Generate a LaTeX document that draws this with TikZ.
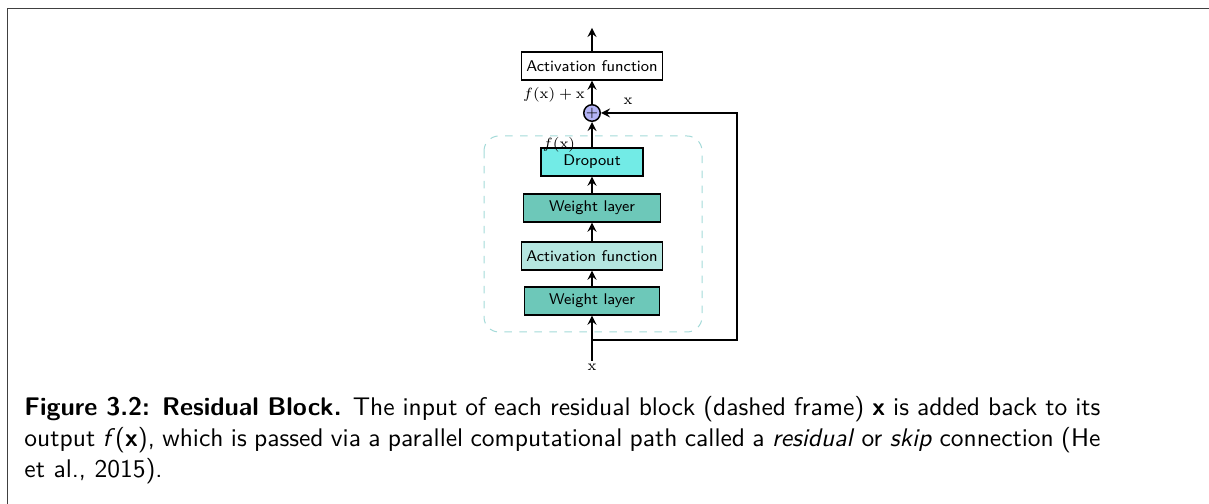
\documentclass[tikz,border=0pt]{standalone}
\usepackage{amsmath}
\usepackage{graphicx}

\definecolor{dropcol}{HTML}{72EBE6}
\definecolor{weightcol}{HTML}{6DC8B9}
\definecolor{actcol}{HTML}{B5E6E0}
\definecolor{framecol}{HTML}{A3DAD8}
\definecolor{addcol}{HTML}{B3B3F5}

\tikzstyle{layer}=[draw, semithick, minimum height=28*0.4pt, inner sep=0pt, font=\sffamily\fontsize{6.2}{7}\selectfont]
\tikzstyle{arrow}=[semithick, -stealth]
\tikzstyle{lbl}=[inner sep=1pt, font=\scriptsize]
\newcommand{\smallmath}[1]{\scalebox{0.85}{$#1$}}

\begin{document}
\begin{tikzpicture}[x=0.4pt, y=-0.4pt]
      \useasboundingbox (0, 0) rectangle (1209, 504);
      % page frame
      \draw[black!75] (7, 504) -- (7, 9) -- (1209, 9);

      \node[layer, fill=white, minimum width=141*0.4pt] (out) at (592, 66) {Activation function};
      \node[layer, fill=dropcol, minimum width=102*0.4pt] (drop) at (592, 162) {Dropout};
      \node[layer, fill=weightcol, minimum width=137*0.4pt] (w2) at (592, 208) {Weight layer};
      \node[layer, fill=actcol, minimum width=141*0.4pt] (act) at (592, 256) {Activation function};
      \node[layer, fill=weightcol, minimum width=135*0.4pt] (w1) at (592, 301) {Weight layer};

      \node[draw, semithick, circle, fill=addcol, inner sep=0pt, minimum size=13*0.4pt, font=\fontsize{4}{4}\selectfont] (add) at (592, 113) {$+$};
      \node[lbl] (xin) at (592, 367) {\smallmath{\mathrm{x}}};
      \coordinate (top) at (592, 28);
      \coordinate (branch) at (592, 340);
      \coordinate (turn) at (737, 113);

      % residual block
      \draw[framecol, dashed, rounded corners=6] (484, 136) rectangle (702, 332);

      \draw[arrow] (xin) -- (w1);
      \draw[arrow] (w1) -- (act);
      \draw[arrow] (act) -- (w2);
      \draw[arrow] (w2) -- (drop);
      \draw[arrow] (drop) -- (add);
      \draw[arrow] (add) -- (out);
      \draw[arrow] (out) -- (top);
      \draw[arrow] (branch) -| (turn) -- (add);

      \node[lbl] (fx) at (559, 145) {\smallmath{f(\mathrm{x})}};
      \node[lbl] (fxx) at (554, 95) {\smallmath{f(\mathrm{x})+\mathrm{x}}};
      \node[lbl] (xskip) at (628, 101) {\smallmath{\mathrm{x}}};

      \node[anchor=north west, inner sep=0pt, text width=1076*0.4pt, align=justify,
            font=\sffamily\fontsize{10.2}{12.4}\selectfont] (caption) at (24, 396)
        {\textbf{Figure 3.2: Residual Block.} The input of each residual block (dashed frame) \textbf{x} is added back to its\linebreak
         output \textit{f}(\textbf{x}), which is passed via a parallel computational path called a \textit{residual} or \textit{skip} connection (He\linebreak
         et al., 2015).};
    \end{tikzpicture}
\end{document}
